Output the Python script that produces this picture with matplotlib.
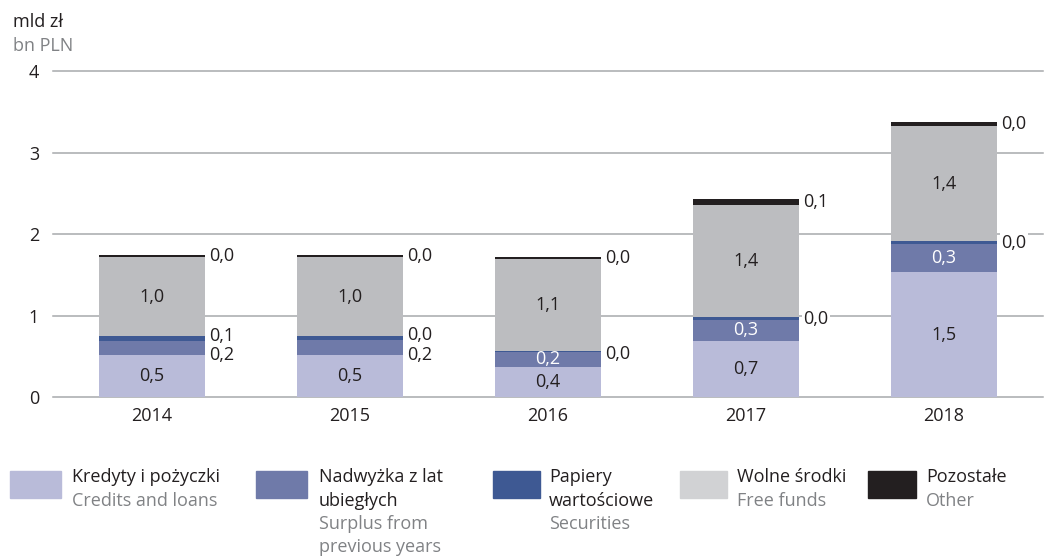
import matplotlib
matplotlib.use("Agg")
import matplotlib.pyplot as plt
from matplotlib.patches import Rectangle
from matplotlib.transforms import offset_copy

plt.rcParams['font.family'] = ['Open Sans', 'DejaVu Sans']

# --- data (bn PLN) ---
years = ["2014", "2015", "2016", "2017", "2018"]
credits = [0.52, 0.52, 0.37, 0.69, 1.53]
surplus = [0.17, 0.18, 0.19, 0.26, 0.345]
securities = [0.06, 0.049, 0.01, 0.03, 0.035]
free_funds = [0.97, 0.97, 1.12, 1.38, 1.42]
other = [0.03, 0.03, 0.03, 0.07, 0.04]
y_ticks = [0, 1, 2, 3, 4]

series_pl = ["Kredyty i pożyczki", "Nadwyżka z lat\nubiegłych", "Papiery\nwartościowe",
             "Wolne środki", "Pozostałe"]
series_en = ["Credits and loans", "Surplus from\nprevious years", "Securities",
             "Free funds", "Other"]

# --- style ---
DARK = "#231F20"
GREY_TXT = "#808285"
GRID = "#A7A9AC"
colors = ["#B9BBD9", "#6F7AA9", "#3E5993", "#BCBDC0", "#231F20"]
legend_colors = ["#B9BBD9", "#6F7AA9", "#3E5993", "#D1D2D4", "#231F20"]
FS = 13

W, H = 1064, 556
fig = plt.figure(figsize=(W / 100, H / 100), dpi=100)
ax = fig.add_axes([53 / W, 1 - 397.3 / H, 990 / W, (397.3 - 71) / H])

x = list(range(len(years)))
bar_w = 0.535
layers = [credits, surplus, securities, free_funds, other]
bottoms = [0.0] * len(years)
segs = []
for vals, col in zip(layers, colors):
    ax.bar(x, vals, bar_w, bottom=bottoms, color=col, zorder=3, linewidth=0)
    segs.append([(b, v) for b, v in zip(bottoms, vals)])
    bottoms = [b + v for b, v in zip(bottoms, vals)]


def fmt(v):
    return f"{v:.1f}".replace(".", ",")


bbox = dict(facecolor="white", edgecolor="none", pad=1.0)
outside_x = bar_w / 2


def side_label(i, b, v, dy_px=0):
    tr = offset_copy(ax.transData, fig=fig, x=4, y=-dy_px, units="dots")
    ax.text(i + outside_x, b + v / 2, fmt(v), transform=tr, ha="left", va="center",
            fontsize=FS, color=DARK, bbox=bbox, zorder=4)


# vertical nudges (pixels, positive = down) for side labels
sec_nudge = [-3, -3, 3, 0, 0]
sur_nudge = [7, 7, 0, 0, 0]

for i in range(len(years)):
    # credits: inside
    b, v = segs[0][i]
    ax.text(i, b + v / 2, fmt(v), ha="center", va="center", fontsize=FS, color=DARK, zorder=4)
    # surplus: inside (white) when tall enough, otherwise at the side
    b, v = segs[1][i]
    if i >= 2:
        ax.text(i, b + v / 2, fmt(v), ha="center", va="center", fontsize=FS,
                color="white", zorder=4)
    else:
        side_label(i, b, v, sur_nudge[i])
    # securities: side
    b, v = segs[2][i]
    side_label(i, b, v, sec_nudge[i])
    # free funds: inside
    b, v = segs[3][i]
    ax.text(i, b + v / 2, fmt(v), ha="center", va="center", fontsize=FS, color=DARK, zorder=4)
    # other: side
    b, v = segs[4][i]
    side_label(i, b, v, 0)

ax.set_xlim(-0.5, 4.5)
ax.set_ylim(0, 4)
ax.set_yticks(y_ticks)
ax.set_yticklabels([str(t) for t in y_ticks])
ax.set_xticks(x)
ax.set_xticklabels(years)
for t in y_ticks:
    ax.axhline(t, color=GRID, linewidth=1.1, zorder=1, clip_on=False)
ax.tick_params(axis="both", length=0, labelsize=FS, colors=DARK)
ax.tick_params(axis="y", pad=10)
ax.tick_params(axis="x", pad=7)
for s in ax.spines.values():
    s.set_visible(False)
ax.set_facecolor("none")

# unit labels
fig.text(13 / W, 1 - 22 / H, "mld zł", fontsize=FS, color=DARK, ha="left", va="center")
fig.text(13 / W, 1 - 46 / H, "bn PLN", fontsize=FS, color=GREY_TXT, ha="left", va="center")

# legend
patch_x = [10, 256, 493, 680, 868]
patch_w = [51, 51, 47, 47, 48]
text_x = [72, 319, 549, 737, 926]
line_h = 23.5
base0 = 482
for k in range(5):
    fig.patches.append(Rectangle((patch_x[k] / W, 1 - 498 / H), patch_w[k] / W, 27 / H,
                                 transform=fig.transFigure, color=legend_colors[k]))
    lines = [(ln, DARK) for ln in series_pl[k].split("\n")] + \
            [(ln, GREY_TXT) for ln in series_en[k].split("\n")]
    for j, (ln, col) in enumerate(lines):
        fig.text(text_x[k] / W, 1 - (base0 + j * line_h) / H, ln, fontsize=FS,
                 color=col, ha="left", va="baseline")

fig.savefig("out.png", dpi=100)
